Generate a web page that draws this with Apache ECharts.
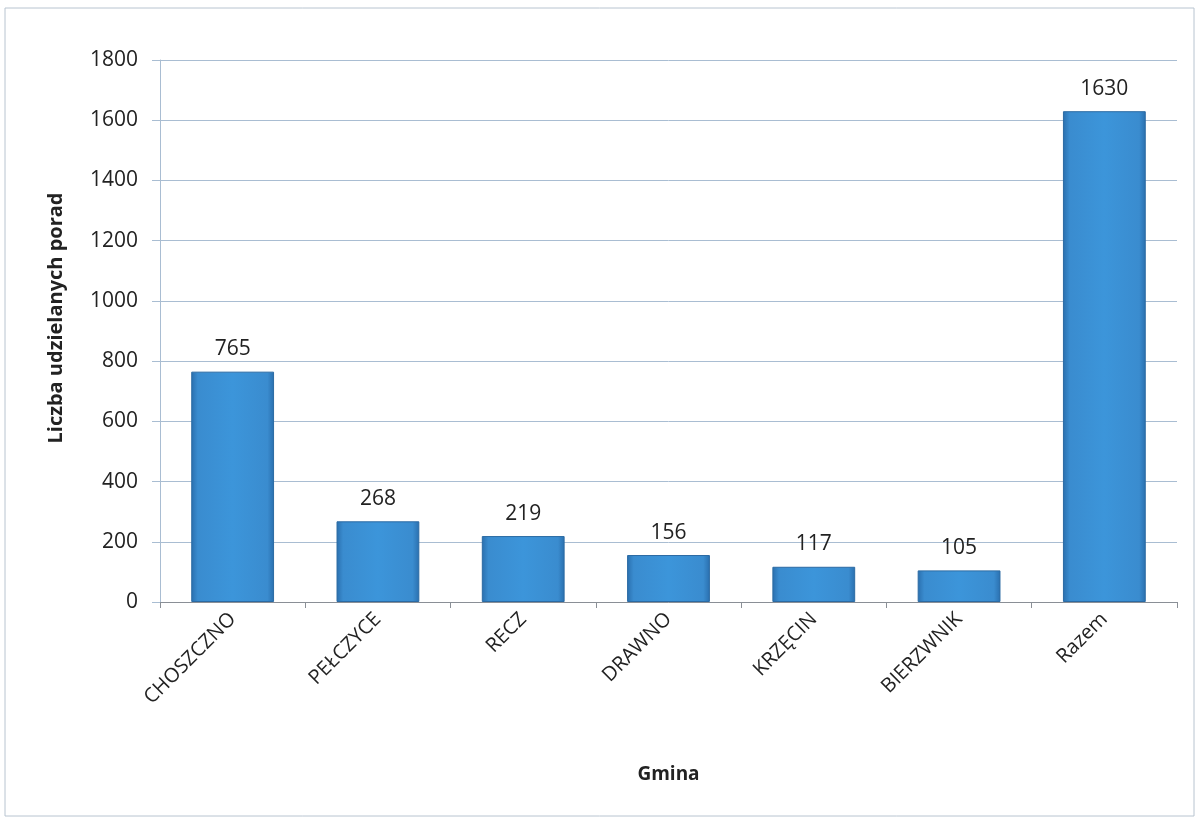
<!DOCTYPE html>
<html><head><meta charset="utf-8">
<script src="https://cdn.jsdelivr.net/npm/echarts@6/dist/echarts.min.js"></script>
<style>html,body{margin:0;padding:0;background:#fff}#c{width:1199px;height:821px}</style>
</head><body><div id="c"></div>
<script>
const categories = ['CHOSZCZNO','PEŁCZYCE','RECZ','DRAWNO','KRZĘCIN','BIERZWNIK','Razem'];
const values = [765, 268, 219, 156, 117, 105, 1630];
const yTicks = {min: 0, max: 1800, interval: 200};
const font = 'Open Sans';

const chart = echarts.init(document.getElementById('c'));
chart.setOption({
  backgroundColor: '#fff',
  animation: false,
  graphic: [{type:'rect', shape:{x:5,y:8,width:1189,height:808}, style:{fill:'none', stroke:'#b8c4d0', lineWidth:1}}],
  grid: {left: 160, right: 22, top: 60, bottom: 219},
  xAxis: {
    type: 'category', data: categories,
    name: 'Gmina', nameLocation: 'middle', nameGap: 163,
    nameTextStyle: {fontFamily: font, fontWeight: 'bold', fontSize: 19, color: '#222'},
    axisLine: {lineStyle: {color: '#8a8f96'}},
    axisTick: {show: true, length: 6, lineStyle: {color: '#8a8f96'}},
    axisLabel: {rotate: 45, fontFamily: font, fontSize: 20, color: '#222', margin: 14, interval: 0}
  },
  yAxis: {
    type: 'value', min: yTicks.min, max: yTicks.max, interval: yTicks.interval,
    name: 'Liczba udzielanych porad', nameLocation: 'middle', nameGap: 94, nameRotate: 90,
    nameTextStyle: {fontFamily: font, fontWeight: 'bold', fontSize: 20, color: '#222', padding: [0, 0, 0, 26]},
    axisLine: {show: true, lineStyle: {color: '#a9bdd2'}},
    axisTick: {show: true, length: 8, lineStyle: {color: '#a9bdd2'}},
    splitLine: {lineStyle: {color: '#a9bdd2'}},
    axisLabel: {fontFamily: font, fontSize: 21, color: '#222', margin: 22, formatter: v => String(v)}
  },
  series: [{
    type: 'bar', data: values, barWidth: '57%',
    itemStyle: {
      color: new echarts.graphic.LinearGradient(0, 0, 1, 0, [
        {offset: 0, color: '#2a6fae'},
        {offset: 0.08, color: '#3a8ccf'},
        {offset: 0.5, color: '#3c95da'},
        {offset: 0.92, color: '#3a8ccf'},
        {offset: 1, color: '#2a6fae'}
      ]),
      borderColor: '#2b6aa3', borderWidth: 1
    },
    label: {show: true, position: 'top', distance: 12, fontFamily: font, fontSize: 21, color: '#222'}
  }]
});
</script></body></html>
